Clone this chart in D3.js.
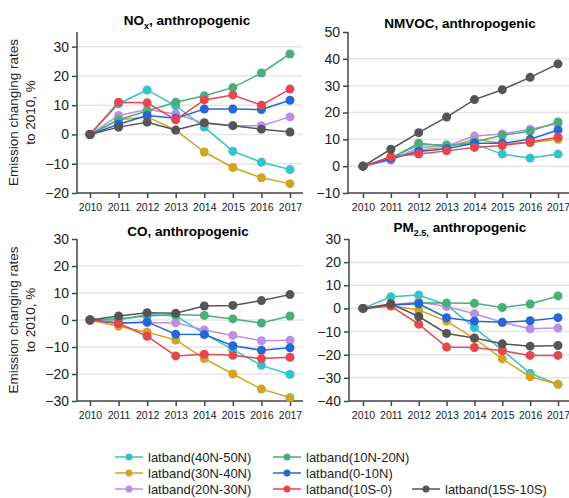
<!DOCTYPE html>
<html>
<head>
<meta charset="utf-8">
<script src="https://cdn.jsdelivr.net/npm/d3@7"></script>
<style>
  body { margin: 0; background: #fff; }
  svg { font-family: "Liberation Sans", Arial, sans-serif; }
  .grid line { stroke: #e6e6e6; stroke-width: 1.5; }
  .axis path, .axis line { stroke: #444; stroke-width: 1.5; }
  .axis text { fill: #222; }
</style>
</head>
<body>
<svg id="chart" width="569" height="498"></svg>
<script>
'use strict';

var years = [2010, 2011, 2012, 2013, 2014, 2015, 2016, 2017];
var bands = ['latband(40N-50N)', 'latband(30N-40N)', 'latband(20N-30N)',
             'latband(10N-20N)', 'latband(0-10N)', 'latband(10S-0)', 'latband(15S-10S)'];
var colors = ['#34c4c8', '#cfa526', '#bb8fe3', '#4aae7b', '#2467d6', '#e6464e', '#555555'];

// values per band, same order as bands
var noxValues = [
  [0, 10.5, 15.2, 9.8, 2.5, -5.7, -9.5, -12],
  [0, 5, 6, 1.5, -6, -11.3, -14.8, -16.8],
  [0, 6.5, 8.5, 7, 3.8, 3, 3, 6],
  [0, 5, 8, 11, 13.2, 16, 21, 27.5],
  [0, 3.5, 6.5, 5.5, 8.7, 8.7, 8.5, 11.7],
  [0, 11, 10.8, 5, 11.8, 13.5, 10, 15.5],
  [0, 2.5, 4.2, 1.5, 4, 3, 1.8, 0.8]
];
var nmvocValues = [
  [0, 3, 8, 8, 8.2, 4.5, 3, 4.5],
  [0, 3, 6, 7, 10, 8.5, 8.7, 10],
  [0, 2.2, 7, 7.5, 11.2, 12, 13.8, 15.8],
  [0, 3, 8.5, 7.5, 9, 11.5, 13, 16.5],
  [0, 2.8, 5.5, 6.5, 8.5, 8.5, 10, 13.5],
  [0, 3.5, 4.5, 5.7, 7, 7.7, 9, 10.8],
  [0, 6.3, 12.5, 18.3, 24.8, 28.5, 33.1, 38.1]
];
var coValues = [
  [0, 0, 2, 1.5, -5, -11, -16.8, -20.2],
  [0, -2.3, -4.5, -7.4, -14.3, -20, -25.6, -28.7],
  [0, -1, -1, -1, -3.7, -5.7, -7.7, -7.5],
  [0, 0.5, 1.5, 2, 1.7, 0.4, -1.1, 1.5],
  [0, -1.2, -0.7, -5.3, -5.4, -9.5, -11.2, -10.3],
  [0, -1.2, -6, -13.3, -12.7, -13.1, -14.3, -13.8],
  [0, 1.5, 2.7, 2.5, 5.2, 5.4, 7.2, 9.4]
];
var pmValues = [
  [0, 5, 5.8, 1.5, -8.3, -18, -28, -32.8],
  [0, 1.2, -0.7, -5.5, -13, -21.8, -29.5, -32.8],
  [0, 1.5, 2.8, 0.8, -2.3, -6, -8.8, -8.5],
  [0, 1.5, 2.5, 2.3, 2.2, 0.4, 1.9, 5.4],
  [0, 1.5, 2, -4, -5.5, -6, -5.3, -4],
  [0, 1, -6.8, -16.7, -16.9, -18.3, -20.3, -20.3],
  [0, 2, -3.5, -10.8, -12.8, -15.3, -16.3, -16]
];

var noxTicks = [-20, -10, 0, 10, 20, 30];
var nmvocTicks = [-10, 0, 10, 20, 30, 40, 50];
var coTicks = [-30, -20, -10, 0, 10, 20, 30];
var pmTicks = [-40, -30, -20, -10, 0, 10, 20, 30];

var svg = d3.select('#chart');

var panels = [
  { name: 'NO', sub: 'x', rest: ', anthropogenic', values: noxValues, ticks: noxTicks, top: 32, yMax: 35,
    left: 77, right: 303, bottom: 193, x0: 90, x1: 290, titleX: 187, titleY: 25, ylabel: true },
  { name: 'NMVOC, anthropogenic', values: nmvocValues, ticks: nmvocTicks, top: 32, yMax: 50,
    left: 348, right: 569, bottom: 193, x0: 363, x1: 558, titleX: 460, titleY: 28 },
  { name: 'CO, anthropogenic', values: coValues, ticks: coTicks, top: 239, yMax: 30,
    left: 77, right: 303, bottom: 401, x0: 90, x1: 290, titleX: 188, titleY: 236, ylabel: true },
  { name: 'PM', sub: '2.5,', rest: ' anthropogenic', values: pmValues, ticks: pmTicks, top: 239, yMax: 30,
    left: 349, right: 569, bottom: 401, x0: 363, x1: 558, titleX: 460, titleY: 232 }
];

panels.forEach(function (p) {
  var yMin = p.ticks[0];
  var x = d3.scalePoint().domain(years).range([p.x0, p.x1]);
  var y = d3.scaleLinear().domain([yMin, p.yMax]).range([p.bottom, p.top]);
  var g = svg.append('g');

  // gridlines
  g.append('g').attr('class', 'grid')
    .selectAll('line')
    .data(p.ticks.filter(function (t) { return t !== yMin && t !== p.yMax; }))
    .enter().append('line')
    .attr('x1', p.left).attr('x2', p.right)
    .attr('y1', function (d) { return y(d); })
    .attr('y2', function (d) { return y(d); });

  // axes
  var yAxis = g.append('g').attr('class', 'axis')
    .attr('transform', 'translate(' + p.left + ',0)')
    .call(d3.axisLeft(y).tickValues(p.ticks).tickSize(5).tickSizeOuter(0)
      .tickFormat(function (d) { return d < 0 ? '\u2212' + Math.abs(d) : d; }));
  yAxis.select('.domain').attr('d', 'M0,' + p.top + 'V' + p.bottom);
  yAxis.selectAll('text').style('font-size', '14px');

  var xAxis = g.append('g').attr('class', 'axis')
    .attr('transform', 'translate(0,' + p.bottom + ')')
    .call(d3.axisBottom(x).tickSize(5).tickSizeOuter(0).tickPadding(6));
  xAxis.select('.domain').attr('d', 'M' + p.left + ',0H' + p.right);
  xAxis.selectAll('text').style('font-size', '10.5px');

  // lines and markers
  var line = d3.line()
    .x(function (d, i) { return x(years[i]); })
    .y(function (d) { return y(d); });

  p.values.forEach(function (vals, k) {
    var s = g.append('g');
    s.append('path')
      .attr('d', line(vals))
      .attr('fill', 'none')
      .attr('stroke', colors[k])
      .attr('stroke-width', 1.5);
    s.selectAll('circle')
      .data(vals)
      .enter().append('circle')
      .attr('cx', function (d, i) { return x(years[i]); })
      .attr('cy', function (d) { return y(d); })
      .attr('r', 4.5)
      .attr('fill', colors[k]);
  });

  // title
  var t = g.append('text')
    .attr('x', p.titleX).attr('y', p.titleY)
    .attr('text-anchor', 'middle')
    .style('font-size', '13.5px').style('font-weight', 'bold');
  t.append('tspan').text(p.name);
  if (p.sub) {
    t.append('tspan').attr('dy', 4).style('font-size', '9px').text(p.sub);
    t.append('tspan').attr('dy', -4).text(p.rest);
  }

  if (p.ylabel) {
    var cy = (p.top + p.bottom) / 2;
    var lab = g.append('text')
      .attr('transform', 'translate(18,' + cy + ') rotate(-90)')
      .attr('text-anchor', 'middle')
      .style('font-size', '13.5px').attr('fill', '#222');
    lab.append('tspan').attr('x', 0).attr('dy', 0).text('Emission changing rates');
    lab.append('tspan').attr('x', 0).attr('dy', 17).text('to 2010, %');
  }
});

// legend
var legendPos = [[115, 457], [115, 473], [115, 489], [273, 457], [273, 473], [273, 489], [412, 489]];
var legend = svg.append('g').selectAll('g')
  .data(bands)
  .enter().append('g')
  .attr('transform', function (d, i) { return 'translate(' + legendPos[i][0] + ',' + legendPos[i][1] + ')'; });
legend.append('line')
  .attr('x1', 0).attr('x2', 28)
  .attr('stroke', function (d, i) { return colors[i]; })
  .attr('stroke-width', 1.5);
legend.append('circle')
  .attr('cx', 14).attr('r', 3.5)
  .attr('fill', function (d, i) { return colors[i]; });
legend.append('text')
  .attr('x', 33).attr('dy', '0.35em')
  .style('font-size', '13px').attr('fill', '#222')
  .text(function (d) { return d; });
</script>
</body>
</html>
